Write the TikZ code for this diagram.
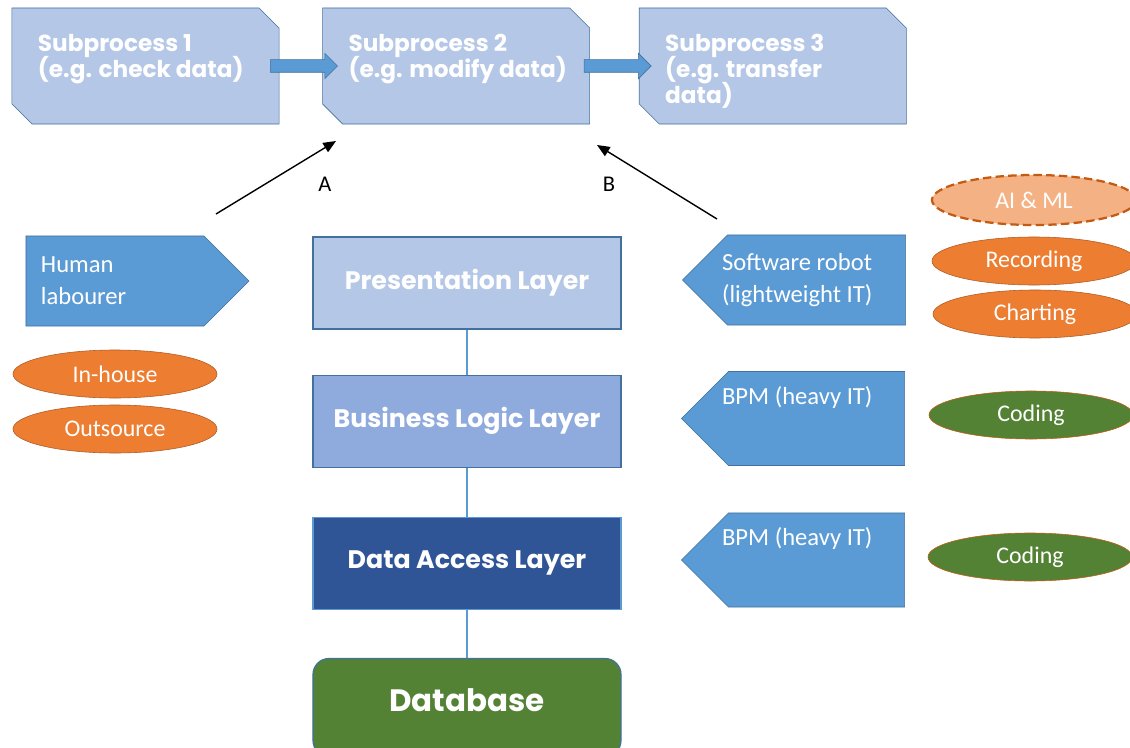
\documentclass[tikz,border=0pt]{standalone}
\usepackage{fontspec}
\setmainfont{Carlito}
\newfontfamily\headfont{Poppins}
\usetikzlibrary{shapes.geometric, shapes.misc, shapes.symbols, shapes.arrows, arrows.meta, positioning, calc}
\definecolor{paleblue}{HTML}{B4C7E7}
\definecolor{midblue}{HTML}{8FAADC}
\definecolor{darkblue}{HTML}{2F5597}
\definecolor{accblue}{HTML}{5B9BD5}
\definecolor{edgeblue}{HTML}{41719C}
\definecolor{accorange}{HTML}{ED7D31}
\definecolor{edgeorange}{HTML}{AE5A21}
\definecolor{softorange}{HTML}{F4B183}
\definecolor{rustorange}{HTML}{C55A11}
\definecolor{accgreen}{HTML}{548235}
% top-aligned text block for the subprocess boxes
\newcommand{\subtext}[1]{\parbox[c][1.6cm][t]{6.1cm}{\raggedright\leftskip=0.36cm\lineskiplimit=-5pt #1}}
% pulls a line of actor text towards the pointer
\newcommand{\pull}{\hspace*{-0.41cm}}

\begin{document}
\begin{tikzpicture}[
    x=0.025cm, y=-0.025cm,
    subproc/.style={chamfered rectangle, chamfered rectangle corners={north east, south west}, chamfered rectangle sep=0.25cm, draw=edgeblue, fill=paleblue, minimum width=6.675cm, minimum height=2.9cm, inner sep=0pt, text=white, font=\headfont\bfseries\fontsize{16.5}{18.5}\selectfont},
    flow/.style={single arrow, draw=edgeblue, fill=accblue, minimum height=1.675cm, single arrow head extend=0.16cm, inner sep=0.15cm},
    layer/.style={draw=edgeblue, thick, minimum width=7.7cm, minimum height=2.3cm, text=white, font=\headfont\bfseries\fontsize{18}{22}\selectfont},
    link/.style={accblue, thick},
    actor/.style={signal, draw=edgeblue, fill=accblue, minimum width=5.575cm, minimum height=2.25cm, text=white, text width=3.9cm, align=flush left, font=\fontsize{17.5}{22.5}\selectfont},
    tag/.style={ellipse, draw=edgeorange, fill=accorange, minimum width=5.1cm, minimum height=1.2cm, text=white, font=\fontsize{17}{20}\selectfont},
    pointer/.style={-{Triangle[length=9pt, width=7.5pt]}, line width=1pt},
]
    \useasboundingbox (0,0) rectangle (1130,748);

    % process chain
    \node[subproc] (sp1) at (145.5,66) {\subtext{Subprocess 1\\(e.g. check data)}};
    \node[subproc, right=1.075cm of sp1] (sp2) {\subtext{Subprocess 2\\(e.g. modify data)}};
    \node[subproc, right=1.225cm of sp2] (sp3) {\subtext{Subprocess 3\\(e.g. transfer\\data)}};
    \node[flow] (flow12) at ($(sp1.east)!0.5!(sp2.west)$) {};
    \node[flow] (flow23) at ($(sp2.east)!0.5!(sp3.west)$) {};

    % three-tier stack
    \node[layer, fill=paleblue] (pres) at (467,283) {Presentation Layer};
    \node[layer, fill=midblue, below=1.125cm of pres] (logic) {Business Logic Layer};
    \node[layer, fill=darkblue, draw=accblue, below=1.225cm of logic] (access) {Data Access Layer};
    \node[layer, fill=accgreen, rounded corners=0.4cm, minimum height=2.45cm, text depth=10pt, font=\headfont\bfseries\fontsize{22}{26}\selectfont, below=1.2cm of access] (db) {Database};
    \draw[link] (pres) -- (logic);
    \draw[link] (logic) -- (access);
    \draw[link] (access) -- (db);

    % who does the work
    \node[actor, signal to=east, text width=3.7cm] (human) at (115,281) {Human\\labourer};
    \node[tag] (inhouse) at (115,374) {In-house};
    \node[tag] (outsrc) at (115,429) {Outsource};

    \node[actor, signal to=west] (robot) at (816.5,280) {\pull Software robot\\\pull(lightweight IT)};
    \node[actor, signal to=west, minimum height=2.35cm, text depth=33pt] (bpmA) at (816.5,418.5) {\pull BPM (heavy IT)};
    \node[actor, signal to=west, minimum height=2.35cm, text depth=33pt] (bpmB) at (816.5,560) {\pull BPM (heavy IT)};

    \node[tag, fill=softorange, draw=rustorange, line width=1.6pt, dash pattern=on 6pt off 3pt, minimum height=1.25cm] (aiml) at (1034,200) {AI \& ML};
    \node[tag] (record) at (1034,261) {Recording};
    \node[tag] (chart) at (1035,314) {Charting};
    \node[tag, fill=accgreen, draw=rustorange] (codeA) at (1031,415) {Coding};
    \node[tag, fill=accgreen, draw=rustorange] (codeB) at (1030,557) {Coding};

    % hand-over arrows
    \coordinate (a0) at (216,214);
    \coordinate (a1) at (336,141);
    \coordinate (b0) at (717,219);
    \coordinate (b1) at (597,145);
    \draw[pointer] (a0) -- (a1);
    \draw[pointer] (b0) -- (b1);
    \node[font=\fontsize{16}{19}\selectfont] (labA) at (325,184) {A};
    \node[font=\fontsize{16}{19}\selectfont] (labB) at (609,184) {B};
\end{tikzpicture}
\end{document}
